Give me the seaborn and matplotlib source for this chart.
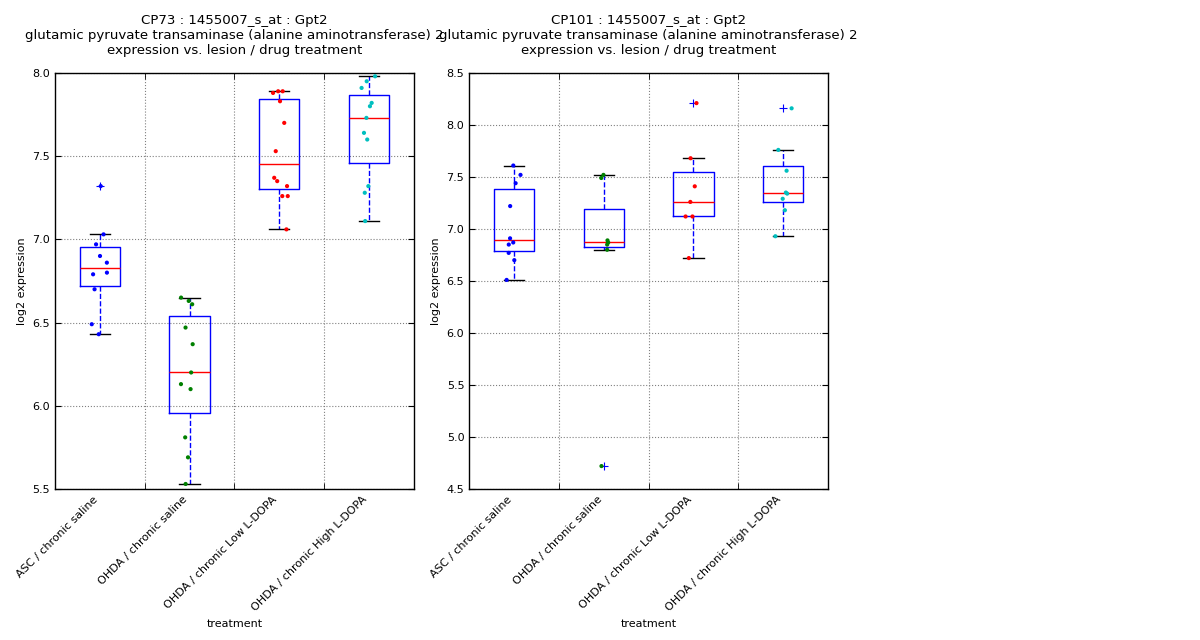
import numpy as np
import pandas as pd
import matplotlib
matplotlib.use("Agg")
import matplotlib.pyplot as plt
import seaborn as sns

# treatment groups
treatments = ["ASC / chronic saline", "OHDA / chronic saline",
              "OHDA / chronic Low L-DOPA", "OHDA / chronic High L-DOPA"]
point_colors = ["#0000ff", "#008000", "#ff0000", "#00bfbf"]

# CP73 values
cp73_asc = [7.32, 7.03, 6.97, 6.90, 6.86, 6.80, 6.79, 6.70, 6.49, 6.43]
cp73_saline = [6.65, 6.63, 6.61, 6.47, 6.37, 6.20, 6.13, 6.10, 5.81, 5.69, 5.53]
cp73_low = [7.89, 7.89, 7.88, 7.83, 7.70, 7.53, 7.37, 7.35, 7.32, 7.26, 7.26, 7.06]
cp73_high = [7.98, 7.95, 7.91, 7.82, 7.80, 7.73, 7.64, 7.60, 7.32, 7.28, 7.11]

# CP101 values
cp101_asc = [7.61, 7.52, 7.44, 7.22, 6.91, 6.87, 6.85, 6.77, 6.70, 6.51]
cp101_saline = [7.52, 7.49, 6.89, 6.87, 6.85, 6.80, 4.72]
cp101_low = [8.21, 7.68, 7.41, 7.26, 7.12, 7.12, 6.72]
cp101_high = [8.16, 7.76, 7.56, 7.35, 7.34, 7.29, 7.18, 6.93]

panels = [
    ("CP73", [cp73_asc, cp73_saline, cp73_low, cp73_high], (5.5, 8.0)),
    ("CP101", [cp101_asc, cp101_saline, cp101_low, cp101_high], (4.5, 8.5)),
]

np.random.seed(3)
fig = plt.figure(figsize=(12, 6.4), dpi=100)
ax_pos = [[0.0458, 0.236, 0.299, 0.65], [0.391, 0.236, 0.299, 0.65]]

for (name, groups, ylim), pos in zip(panels, ax_pos):
    ax = fig.add_axes(pos)
    rows = []
    for t, vals in zip(treatments, groups):
        for v in vals:
            rows.append({"treatment": t, "log2 expression": v})
    df = pd.DataFrame(rows)

    sns.boxplot(data=df, x="treatment", y="log2 expression", order=treatments,
                width=0.45, fill=False, color="#0000ff", linecolor="#0000ff",
                linewidth=1, ax=ax,
                boxprops={"color": "#0000ff", "linewidth": 1},
                whiskerprops={"color": "#0000ff", "linestyle": "--", "linewidth": 1},
                capprops={"color": "black", "linewidth": 1},
                medianprops={"color": "red", "linewidth": 1},
                flierprops={"marker": "+", "color": "#0000ff",
                            "markeredgecolor": "#0000ff",
                            "markerfacecolor": "none", "markersize": 6,
                            "markeredgewidth": 0.8})
    # fliers: make sure they stay blue
    for ln in ax.lines:
        if ln.get_marker() == "+":
            ln.set_markeredgecolor("#0000ff")
            ln.set_color("#0000ff")
    sns.stripplot(data=df, x="treatment", y="log2 expression", order=treatments,
                  hue="treatment", hue_order=treatments, palette=point_colors,
                  jitter=0.1, size=3, linewidth=0, legend=False, ax=ax, zorder=5)

    ax.set_xlim(-0.5, 3.5)
    ax.set_ylim(*ylim)
    yt = np.arange(ylim[0], ylim[1] + 0.01, 0.5)
    ax.set_yticks(yt)
    ax.set_yticklabels([f"{v:.1f}" for v in yt])
    ax.set_xticks(range(4))
    ax.set_xticklabels(treatments, rotation=45, ha="right")
    ax.set_xticks([0.5, 1.5, 2.5], minor=True)

    ax.tick_params(axis="x", which="major", length=0, labelsize=8, pad=4)
    ax.tick_params(axis="x", which="minor", direction="in", length=4,
                   top=True, bottom=True, color="black")
    ax.tick_params(axis="y", which="major", direction="in", length=4,
                   left=True, right=True, labelsize=8)

    ax.grid(False)
    ax.xaxis.grid(True, which="minor", linestyle=":", color="0.5", linewidth=0.8)
    ax.yaxis.grid(True, which="major", linestyle=":", color="0.5", linewidth=0.8)
    ax.set_axisbelow(True)
    for sp in ax.spines.values():
        sp.set_color("black")
        sp.set_linewidth(1)
        sp.set_visible(True)

    ax.set_xlabel("treatment", fontsize=8)
    ax.set_ylabel("log2 expression", fontsize=8)
    ax.set_title(f"{name} : 1455007_s_at : Gpt2\n"
                 "glutamic pyruvate transaminase (alanine aminotransferase) 2\n"
                 "expression vs. lesion / drug treatment",
                 fontsize=9.6, pad=14)

fig.savefig("out.png", dpi=100)
